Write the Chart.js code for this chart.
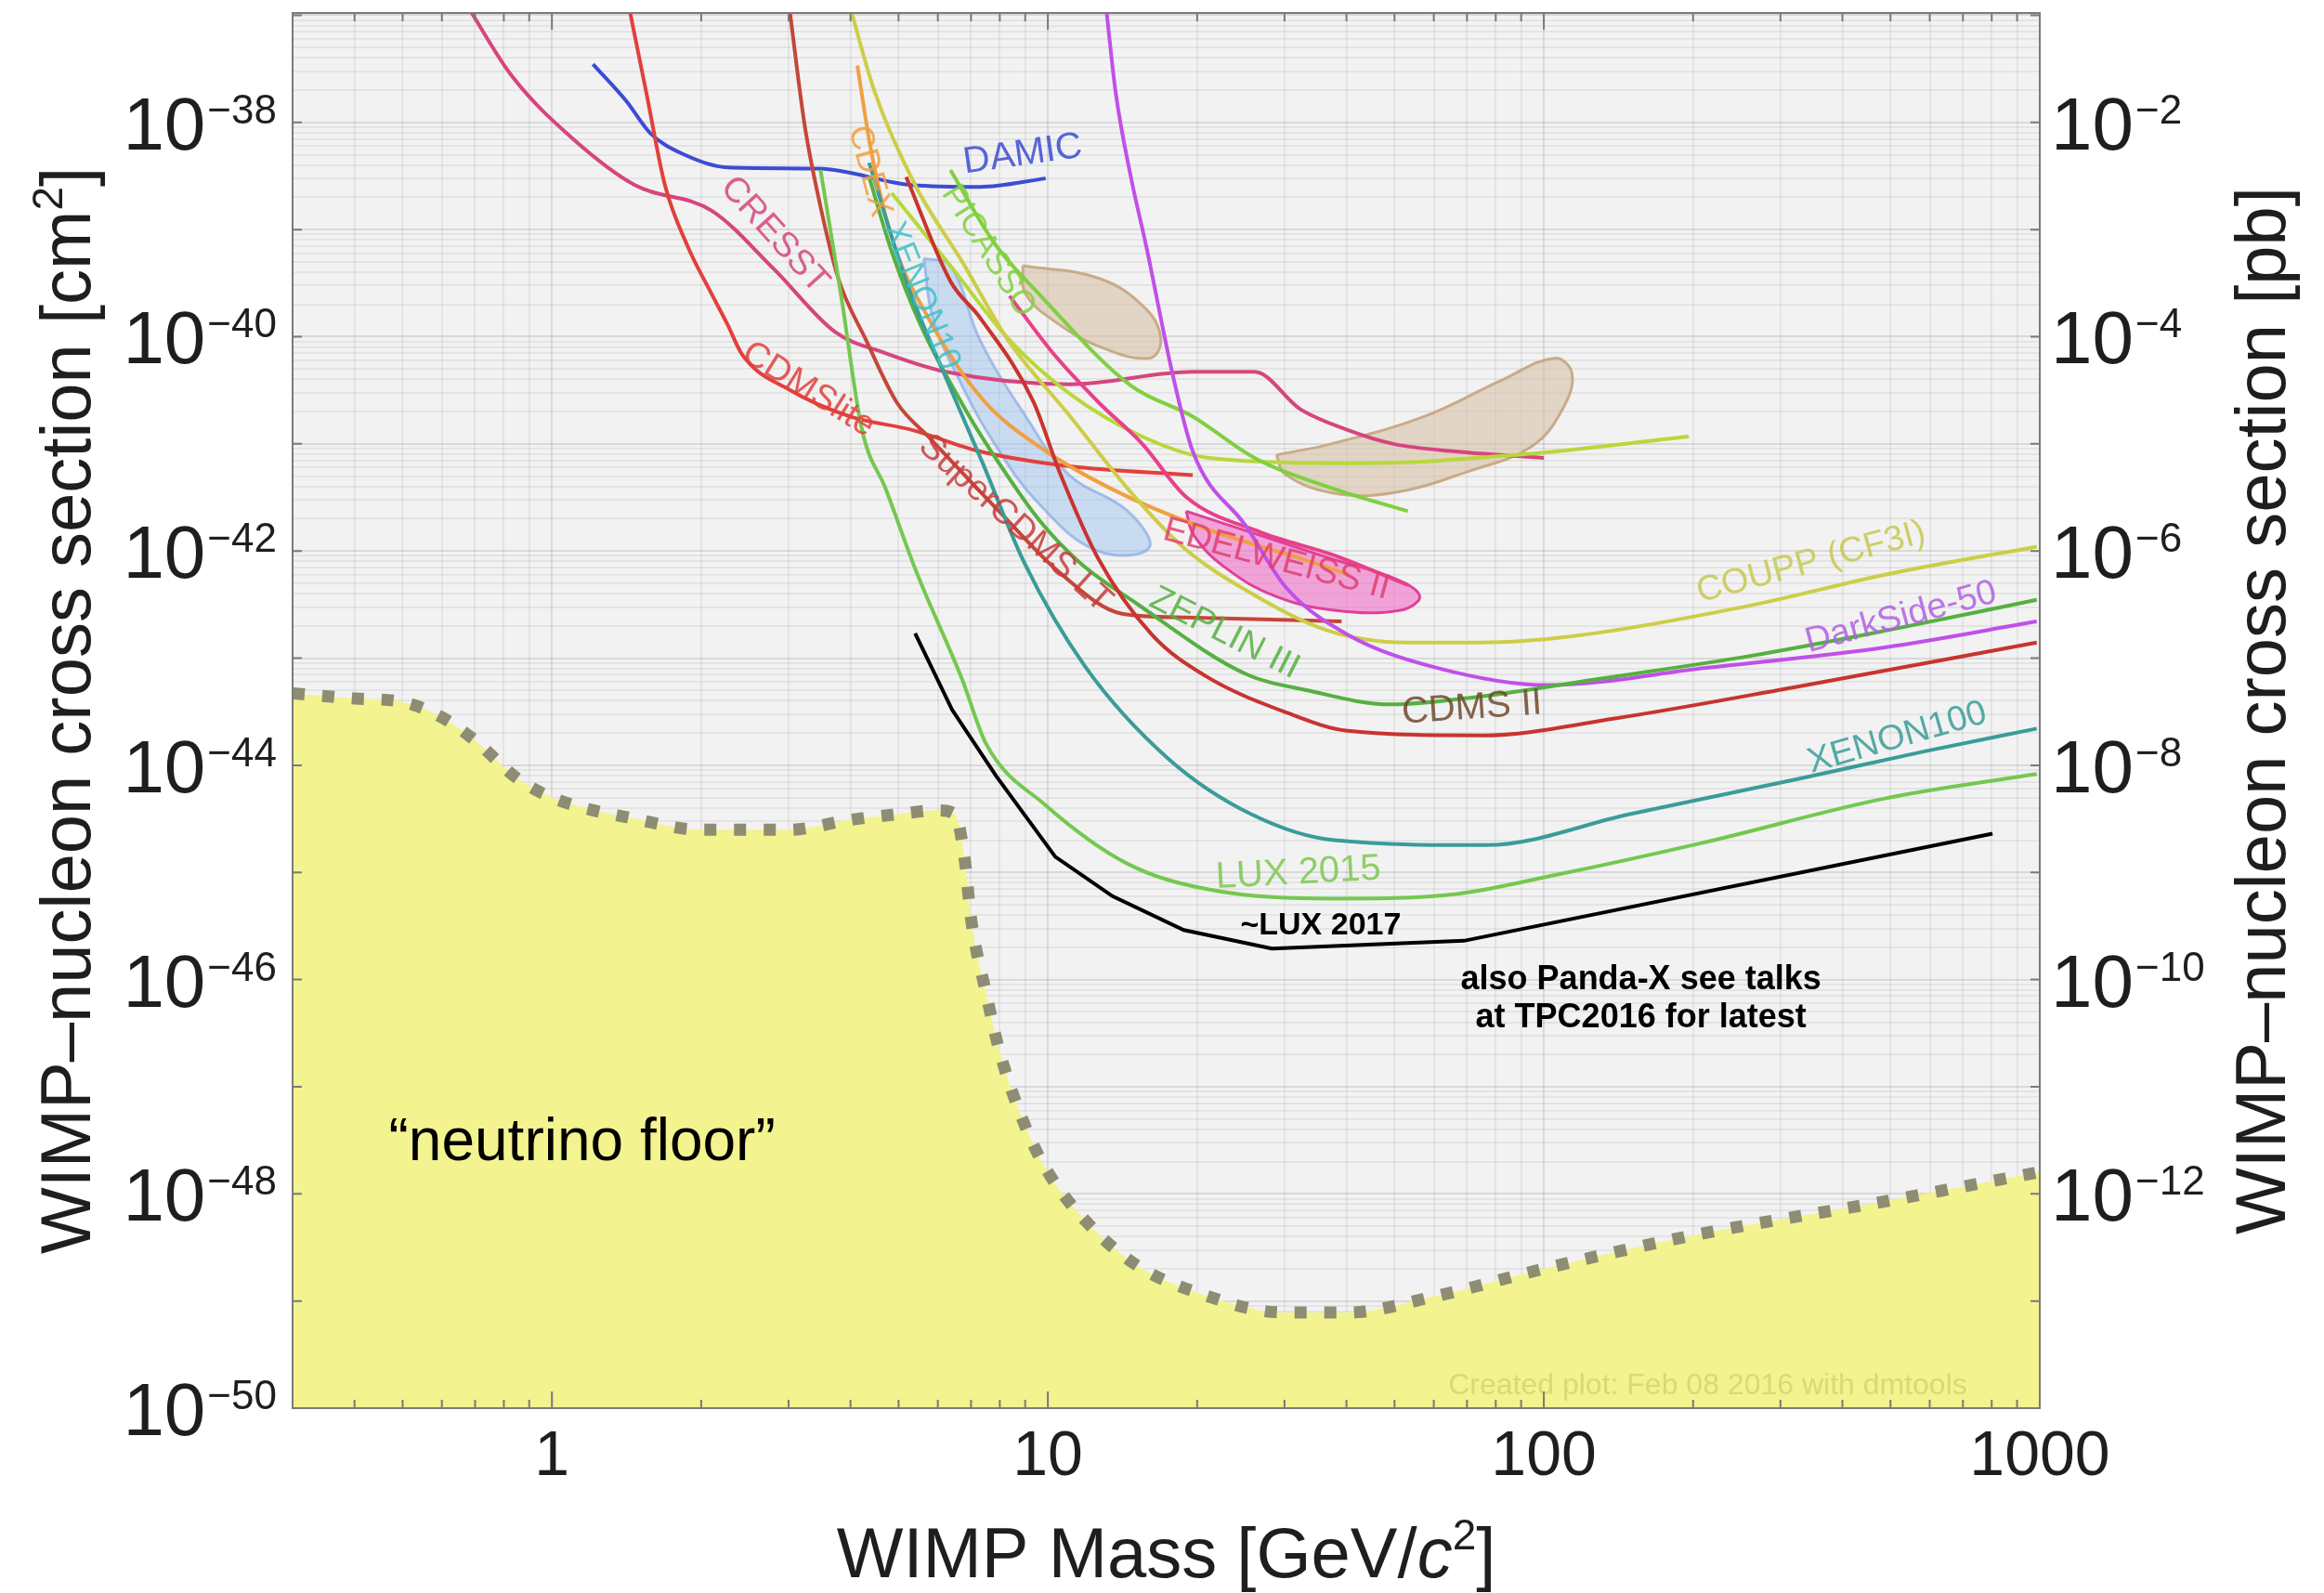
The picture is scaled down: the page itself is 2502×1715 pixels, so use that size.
<!DOCTYPE html>
<html>
<head>
<meta charset="utf-8">
<title>WIMP-nucleon cross section limits</title>
<script src="https://cdn.jsdelivr.net/npm/chart.js@4.4.1/dist/chart.umd.min.js"></script>
<style>
  html, body { margin: 0; padding: 0; background: #fff; }
  #wrap { width: 2502px; height: 1715px; }
</style>
</head>
<body>
<div id="wrap"><canvas id="chart" width="2502" height="1715"></canvas></div>
<script>
// axis ranges: WIMP mass in GeV/c^2, cross section in cm^2 (1 pb = 1e-36 cm^2)
var massMin = 0.305, massMax = 1000;
var sigmaMin = 1e-50, sigmaMax = 1.05e-37;

// tick labels
var massTickLabels = [1, 10, 100, 1000];
var cmTickExponents = [-38, -40, -42, -44, -46, -48, -50];
var pbTickExponents = [-2, -4, -6, -8, -10, -12];

// neutrino floor
var floorMass = [0.3, 0.4, 0.5, 0.6, 0.7, 0.85, 1, 1.5, 2, 3, 4, 5, 6, 6.5, 6.8, 7, 7.5, 8, 9, 10, 12, 15, 20, 30, 40, 60, 100, 200, 500, 1000];
var floorSigma = [4.7e-44, 4.2e-44, 3.9e-44, 2.8e-44, 1.7e-44, 7.6e-45, 5.0e-45, 3.1e-45, 2.5e-45, 2.5e-45, 3.1e-45, 3.5e-45, 3.8e-45, 3.5e-45, 1.3e-45, 3.7e-46, 7.6e-47, 2.1e-47, 4.3e-48, 1.6e-48, 5.4e-49, 2.2e-49, 1.2e-49, 7.8e-50, 7.8e-50, 1.1e-49, 2.0e-49, 4.1e-49, 8.7e-49, 1.6e-48];

// exclusion curves
var damicMass = [1.21, 1.41, 1.58, 1.85, 2.26, 3.46, 5.32, 7.3, 9.9];
var damicSigma = [3.5e-38, 1.6e-38, 7.9e-39, 5.0e-39, 3.8e-39, 3.7e-39, 2.6e-39, 2.5e-39, 3.0e-39];

var cresstMass = [0.677, 0.831, 1.10, 1.47, 2.10, 2.80, 3.73, 4.67, 6.23, 11.1, 19.6, 26.1, 32.3, 40.2, 49.7, 66.3, 100];
var cresstSigma = [1.2e-37, 2.7e-38, 7.1e-39, 2.6e-39, 1.5e-39, 4.3e-40, 1.1e-40, 7.1e-41, 4.7e-41, 3.6e-41, 4.7e-41, 4.7e-41, 2.1e-41, 1.35e-41, 1.0e-41, 8.5e-42, 7.4e-42];

var cdmsliteMass = [1.43, 1.55, 1.69, 1.88, 2.10, 2.26, 2.42, 3.01, 3.99, 5.32, 7.30, 11.0, 19.6];
var cdmsliteSigma = [1.2e-37, 1.9e-38, 2.6e-39, 6.9e-40, 2.5e-40, 1.3e-40, 6.8e-41, 3.2e-41, 1.8e-41, 1.35e-41, 8.5e-42, 6.2e-42, 5.1e-42];

var superCdmsMass = [3.01, 3.23, 3.46, 3.78, 4.30, 4.97, 5.74, 7.97, 10.6, 14.1, 19.0, 39.1];
var superCdmsSigma = [1.2e-37, 9.7e-39, 1.85e-39, 3.5e-40, 9.3e-41, 2.4e-41, 1.17e-41, 2.35e-42, 6.2e-43, 2.6e-43, 2.4e-43, 2.2e-43];

var cdexMass = [4.13, 4.39, 4.84, 5.74, 7.39, 9.93, 14.5, 21.8, 32.9, 40.5];
var cdexSigma = [3.4e-38, 5.8e-39, 8.5e-40, 1.5e-40, 2.6e-41, 8.5e-42, 3.2e-42, 1.5e-42, 8.3e-43, 6.0e-43];

var picassoMass = [6.36, 7.81, 9.60, 14.7, 19.6, 26.1, 37.8, 53.2];
var picassoSigma = [3.6e-39, 7.4e-40, 2.5e-40, 3.5e-41, 1.8e-41, 7.4e-42, 3.8e-42, 2.35e-42];

var limeMass = [4.84, 6.36, 8.37, 11.0, 15.5, 21.1, 43.0, 88.4, 196];
var limeSigma = [2.2e-39, 4.6e-40, 9.3e-41, 3.0e-41, 1.17e-41, 7.4e-42, 6.6e-42, 7.9e-42, 1.17e-41];

var edelweissMass = [8.37, 10.3, 12.7, 15.5, 19.0, 26.8, 37.8, 53.2];
var edelweissSigma = [2.4e-40, 6.8e-41, 2.4e-41, 1.0e-41, 3.2e-42, 1.5e-42, 9.1e-43, 4.8e-43];

var couppMass = [3.99, 4.48, 5.40, 6.72, 8.31, 11.1, 14.5, 18.8, 25.1, 36.8, 53.2, 75.0, 114, 261, 487, 986];
var couppSigma = [1.2e-37, 1.9e-38, 2.6e-39, 5.0e-40, 9.3e-41, 1.8e-41, 3.8e-42, 1.07e-42, 4.3e-43, 1.8e-43, 1.4e-43, 1.4e-43, 1.6e-43, 3.1e-43, 6.0e-43, 1.1e-42];

var darksideMass = [13.1, 13.7, 14.7, 15.8, 17.8, 19.6, 25.1, 30.3, 40.2, 61.0, 102, 212, 487, 986];
var darksideSigma = [1.2e-37, 1.9e-38, 3.1e-39, 6.9e-40, 4.7e-41, 8.5e-42, 1.7e-42, 4.5e-43, 1.66e-43, 8.1e-44, 5.6e-44, 8.1e-44, 1.26e-43, 2.2e-43];

var zeplinMass = [4.36, 4.84, 5.55, 6.95, 7.97, 9.60, 11.6, 15.0, 25.1, 33.4, 49.0, 75.0, 126, 261, 487, 986];
var zeplinSigma = [3.1e-39, 6.3e-40, 1.26e-40, 1.8e-41, 6.6e-42, 1.95e-42, 7.8e-43, 3.3e-43, 7.1e-44, 5.0e-44, 3.7e-44, 4.4e-44, 6.3e-44, 1.05e-43, 1.8e-43, 3.5e-43];

var cdms2Mass = [5.18, 6.36, 7.30, 9.34, 10.6, 12.6, 16.2, 20.7, 30.3, 40.2, 75.0, 140, 323, 986];
var cdms2Sigma = [3.1e-39, 3.3e-40, 1.5e-40, 2.5e-41, 5.2e-42, 8.7e-43, 1.66e-43, 6.9e-44, 3.1e-44, 2.1e-44, 1.9e-44, 2.75e-44, 5.4e-44, 1.4e-43];

var xenon100Mass = [4.36, 5.18, 6.36, 7.39, 8.96, 11.9, 17.5, 25.7, 37.8, 76.5, 149, 323, 586, 986];
var xenon100Sigma = [4.2e-39, 3.3e-40, 3.3e-41, 6.6e-42, 7.8e-43, 8.3e-44, 1.15e-44, 3.5e-45, 2.0e-45, 1.8e-45, 3.5e-45, 7.4e-45, 1.35e-44, 2.2e-44];

var lux2015Mass = [3.48, 3.83, 4.22, 4.71, 5.43, 6.72, 7.50, 9.86, 14.5, 21.2, 37.8, 66.7, 106, 210, 487, 986];
var lux2015Sigma = [3.6e-39, 2.4e-40, 1.35e-41, 3.8e-42, 6.4e-43, 6.3e-44, 1.6e-44, 4.3e-45, 1.2e-45, 6.9e-46, 5.7e-46, 6.3e-46, 9.5e-46, 1.9e-45, 4.9e-45, 8.3e-45];

var lux2017Mass = [5.40, 6.41, 7.87, 10.35, 13.5, 18.8, 28.3, 69.0, 803];
var lux2017Sigma = [1.7e-43, 3.3e-44, 7.9e-45, 1.4e-45, 6.0e-46, 2.9e-46, 1.95e-46, 2.3e-46, 2.3e-45];

// signal regions (closed contours)
var tanUpperMass = [8.90, 12.7, 15.8, 16.9, 16.0, 12.7, 10.3, 9.02, 8.90];
var tanUpperSigma = [4.6e-40, 3.5e-40, 1.8e-40, 9.3e-41, 6.3e-41, 8.1e-41, 1.4e-40, 2.5e-40, 4.6e-40];

var tanLowerMass = [28.9, 37.3, 57.4, 82.0, 105, 114, 109, 94.6, 71.0, 49.7, 37.3, 30.1, 28.9];
var tanLowerSigma = [7.9e-42, 1.0e-41, 1.8e-41, 3.9e-41, 6.3e-41, 4.5e-41, 2.1e-41, 9.5e-42, 5.6e-42, 3.5e-42, 3.5e-42, 5.2e-42, 7.9e-42];

var blueMass = [5.62, 6.36, 7.30, 8.96, 11.0, 14.5, 16.0, 12.6, 9.60, 7.81, 6.58, 5.86, 5.62];
var blueSigma = [5.4e-40, 4.6e-40, 9.3e-41, 1.9e-41, 5.2e-42, 2.35e-42, 1.07e-42, 1.0e-42, 2.75e-42, 1.0e-41, 4.2e-41, 1.5e-40, 5.4e-40];

var pinkMass = [19.0, 26.8, 37.8, 49.7, 56.2, 51.4, 37.8, 28.7, 22.7, 19.7, 19.0];
var pinkSigma = [2.35e-42, 1.4e-42, 8.3e-43, 5.6e-43, 3.8e-43, 2.8e-43, 2.8e-43, 3.8e-43, 7.1e-43, 1.4e-42, 2.35e-42];

// curve labels placed in data coordinates
var curveNotes = [
  { text: 'DAMIC', mass: 8.9, sigma: 5.0e-39, angle: -8, color: '#3b4cd4', size: 40 },
  { text: 'CRESST', mass: 2.81, sigma: 8.9e-40, angle: 48, color: '#d6457e', size: 38 },
  { text: 'CDMSlite', mass: 3.29, sigma: 3.2e-41, angle: 32, color: '#e2403c', size: 38 },
  { text: 'SuperCDMS LT', mass: 8.59, sigma: 1.8e-42, angle: 42, color: '#c83c3c', size: 38 },
  { text: 'CDEX', mass: 4.37, sigma: 3.5e-39, angle: 75, color: '#eea040', size: 36 },
  { text: 'XENON10', mass: 5.56, sigma: 2.4e-40, angle: 68, color: '#40c0c8', size: 36 },
  { text: 'PICASSO', mass: 7.59, sigma: 6.3e-40, angle: 58, color: '#80d040', size: 36 },
  { text: 'EDELWEISS II', mass: 28.9, sigma: 8.3e-43, angle: 15, color: '#e04070', size: 38 },
  { text: 'ZEPLIN III', mass: 22.7, sigma: 1.7e-43, angle: 27, color: '#55b040', size: 38 },
  { text: 'CDMS II', mass: 71.6, sigma: 3.4e-44, angle: -4, color: '#6e4a2e', size: 40 },
  { text: 'COUPP (CF3I)', mass: 346, sigma: 7.8e-43, angle: -15, color: '#c8c850', size: 38 },
  { text: 'DarkSide-50', mass: 525, sigma: 2.4e-43, angle: -15, color: '#b060e0', size: 38 },
  { text: 'XENON100', mass: 516, sigma: 1.8e-44, angle: -16, color: '#3a9c98', size: 38 },
  { text: 'LUX 2015', mass: 32.0, sigma: 9.8e-46, angle: -3, color: '#7cc850', size: 40 }
];

var FONT = '"Liberation Sans", Arial, Helvetica, sans-serif';

function points(mass, sigma) {
  return mass.map(function (m, i) { return { x: m, y: sigma[i] }; });
}

function curve(label, mass, sigma, color, width) {
  return {
    label: label,
    data: points(mass, sigma),
    borderColor: color,
    borderWidth: width || 4,
    pointRadius: 0,
    fill: false,
    cubicInterpolationMode: 'monotone'
  };
}

function region(label, mass, sigma, fillColor, lineColor) {
  return {
    label: label,
    data: points(mass, sigma),
    borderColor: lineColor,
    backgroundColor: fillColor,
    borderWidth: 3,
    pointRadius: 0,
    tension: 0.4,
    fill: 'shape'
  };
}

var lux2017 = curve('~LUX 2017', lux2017Mass, lux2017Sigma, '#000000', 4);
lux2017.cubicInterpolationMode = 'default';
lux2017.tension = 0;

var floor = {
  label: 'neutrino floor',
  data: points(floorMass, floorSigma),
  borderColor: '#8d8d74',
  borderWidth: 13,
  borderDash: [13, 19],
  pointRadius: 0,
  cubicInterpolationMode: 'monotone',
  backgroundColor: 'rgb(243,243,143)',
  fill: 'start'
};

// first in the list is drawn on top
var datasets = [
  lux2017,
  curve('LUX 2015', lux2015Mass, lux2015Sigma, '#74c850'),
  curve('XENON100', xenon100Mass, xenon100Sigma, '#3a9c98'),
  curve('CDMS II', cdms2Mass, cdms2Sigma, '#c8342e'),
  curve('ZEPLIN III', zeplinMass, zeplinSigma, '#55b040'),
  curve('DarkSide-50', darksideMass, darksideSigma, '#c050e8'),
  curve('COUPP', couppMass, couppSigma, '#cdcd48'),
  curve('EDELWEISS II', edelweissMass, edelweissSigma, '#e8408a'),
  curve('PICASSO', picassoMass, picassoSigma, '#80d040'),
  curve('SIMPLE', limeMass, limeSigma, '#b8d83a'),
  curve('CDEX', cdexMass, cdexSigma, '#f0a040'),
  curve('SuperCDMS LT', superCdmsMass, superCdmsSigma, '#c4473a'),
  curve('CDMSlite', cdmsliteMass, cdmsliteSigma, '#e2403c'),
  curve('CRESST', cresstMass, cresstSigma, '#d6457e'),
  curve('DAMIC', damicMass, damicSigma, '#3b4cd4'),
  region('EDELWEISS region', pinkMass, pinkSigma, 'rgba(240,110,200,0.6)', '#e0409a'),
  region('signal region A', tanUpperMass, tanUpperSigma, 'rgba(214,190,160,0.55)', '#c9ab88'),
  region('signal region B', tanLowerMass, tanLowerSigma, 'rgba(214,190,160,0.55)', '#c9ab88'),
  region('signal region C', blueMass, blueSigma, 'rgba(150,190,240,0.45)', 'rgba(120,160,230,0.6)'),
  floor
];

function logTicks(lo, hi, fromExp, toExp) {
  var ticks = [];
  for (var d = fromExp; d <= toExp; d++) {
    for (var k = 1; k <= 9; k++) {
      var v = k * Math.pow(10, d);
      if (v >= lo * 0.999 && v <= hi) ticks.push({ value: v, major: k === 1 });
    }
  }
  return ticks;
}

function gridColor(c) {
  return c.tick && c.tick.major ? 'rgba(0,0,0,0.10)' : 'rgba(0,0,0,0.055)';
}

function drawPower(ctx, exp, x, y, alignRight) {
  var big = '80px ' + FONT, small = '44px ' + FONT;
  var sup = '\u2212' + Math.abs(exp);
  ctx.font = big;
  var w1 = ctx.measureText('10').width;
  ctx.font = small;
  var w2 = ctx.measureText(sup).width;
  var left = alignRight ? x - w1 - w2 - 2 : x;
  ctx.textAlign = 'left';
  ctx.textBaseline = 'alphabetic';
  ctx.font = big;
  ctx.fillText('10', left, y + 29);
  ctx.font = small;
  ctx.fillText(sup, left + w1 + 2, y + 1);
}

// draws a run of text pieces centred on (0,0) in the current transform
function drawPieces(ctx, pieces) {
  var total = 0;
  pieces.forEach(function (p) { ctx.font = p.font; p.w = ctx.measureText(p.text).width; total += p.w; });
  var x = -total / 2;
  ctx.textAlign = 'left';
  ctx.textBaseline = 'alphabetic';
  pieces.forEach(function (p) {
    ctx.font = p.font;
    ctx.fillText(p.text, x, p.dy || 0);
    x += p.w;
  });
}

var decor = {
  id: 'decor',
  beforeDraw: function (chart) {
    var a = chart.chartArea, ctx = chart.ctx;
    ctx.save();
    ctx.fillStyle = '#ffffff';
    ctx.fillRect(0, 0, chart.width, chart.height);
    ctx.fillStyle = '#f2f2f2';
    ctx.fillRect(a.left, a.top, a.right - a.left, a.bottom - a.top);
    ctx.restore();
  },
  afterDraw: function (chart) {
    var ctx = chart.ctx, a = chart.chartArea;
    var xs = chart.scales.x, ys = chart.scales.y;
    ctx.save();

    // frame and tick marks
    ctx.strokeStyle = '#7a7a7a';
    ctx.lineWidth = 2;
    ctx.strokeRect(a.left, a.top, a.right - a.left, a.bottom - a.top);
    xs.ticks.forEach(function (t) {
      var px = xs.getPixelForValue(t.value), len = t.major ? 18 : 9;
      ctx.beginPath();
      ctx.moveTo(px, a.bottom); ctx.lineTo(px, a.bottom - len);
      ctx.moveTo(px, a.top); ctx.lineTo(px, a.top + len);
      ctx.stroke();
    });
    ys.ticks.forEach(function (t) {
      if (!t.major) return;
      var py = ys.getPixelForValue(t.value);
      ctx.beginPath();
      ctx.moveTo(a.left, py); ctx.lineTo(a.left + 10, py);
      ctx.moveTo(a.right, py); ctx.lineTo(a.right - 10, py);
      ctx.stroke();
    });

    // tick labels
    ctx.fillStyle = '#1e1e1e';
    cmTickExponents.forEach(function (e) {
      drawPower(ctx, e, a.left - 17, ys.getPixelForValue(Math.pow(10, e)), true);
    });
    pbTickExponents.forEach(function (e) {
      drawPower(ctx, e, a.right + 12, ys.getPixelForValue(Math.pow(10, e - 36)), false);
    });
    ctx.font = '68px ' + FONT;
    ctx.textAlign = 'center';
    ctx.textBaseline = 'alphabetic';
    massTickLabels.forEach(function (m) {
      ctx.fillText(String(m), xs.getPixelForValue(m), a.bottom + 72);
    });

    // axis titles
    var tf = '76px ' + FONT;
    ctx.save();
    ctx.translate((a.left + a.right) / 2, 1698);
    drawPieces(ctx, [
      { text: 'WIMP Mass [GeV/', font: tf },
      { text: 'c', font: 'italic ' + tf },
      { text: '2', font: '46px ' + FONT, dy: -30 },
      { text: ']', font: tf }
    ]);
    ctx.restore();
    ctx.save();
    ctx.translate(97, (a.top + a.bottom) / 2);
    ctx.rotate(-Math.PI / 2);
    drawPieces(ctx, [
      { text: 'WIMP\u2013nucleon cross section [cm', font: tf },
      { text: '2', font: '46px ' + FONT, dy: -30 },
      { text: ']', font: tf }
    ]);
    ctx.restore();
    ctx.save();
    ctx.translate(2460, (a.top + a.bottom) / 2);
    ctx.rotate(-Math.PI / 2);
    drawPieces(ctx, [{ text: 'WIMP\u2013nucleon cross section [pb]', font: tf }]);
    ctx.restore();

    // curve labels
    ctx.textAlign = 'center';
    ctx.textBaseline = 'middle';
    curveNotes.forEach(function (n) {
      ctx.save();
      ctx.translate(xs.getPixelForValue(n.mass), ys.getPixelForValue(n.sigma));
      ctx.rotate(n.angle * Math.PI / 180);
      ctx.globalAlpha = 0.85;
      ctx.fillStyle = n.color;
      ctx.font = n.size + 'px ' + FONT;
      ctx.fillText(n.text, 0, 0);
      ctx.restore();
    });

    // annotations
    ctx.fillStyle = '#000';
    ctx.font = 'bold 34px ' + FONT;
    ctx.fillText('~LUX 2017', xs.getPixelForValue(35.5), ys.getPixelForValue(3.2e-46));
    ctx.font = 'bold 36px ' + FONT;
    ctx.fillText('also Panda-X see talks', xs.getPixelForValue(157), ys.getPixelForValue(1.0e-46));
    ctx.fillText('at TPC2016 for latest', xs.getPixelForValue(157), ys.getPixelForValue(4.4e-47));
    ctx.font = '64px ' + FONT;
    ctx.fillText('\u201cneutrino floor\u201d', xs.getPixelForValue(1.15), ys.getPixelForValue(2.95e-48));
    ctx.font = '32px ' + FONT;
    ctx.fillStyle = 'rgba(150,150,60,0.28)';
    ctx.fillText('Created plot: Feb 08 2016 with dmtools', xs.getPixelForValue(214), ys.getPixelForValue(1.6e-50));

    ctx.restore();
  }
};

var chart = new Chart(document.getElementById('chart').getContext('2d'), {
  type: 'line',
  data: { datasets: datasets },
  options: {
    responsive: false,
    devicePixelRatio: 1,
    animation: false,
    layout: { padding: { top: 14, right: 306, left: 0, bottom: 0 } },
    plugins: { legend: { display: false }, tooltip: { enabled: false } },
    scales: {
      x: {
        type: 'logarithmic',
        position: 'bottom',
        min: massMin,
        max: massMax,
        ticks: { display: false },
        border: { display: false },
        grid: { color: gridColor, lineWidth: 2, drawTicks: false },
        afterBuildTicks: function (scale) { scale.ticks = logTicks(massMin, massMax, -1, 3); },
        afterFit: function (scale) { scale.height = 199; }
      },
      y: {
        type: 'logarithmic',
        position: 'left',
        min: sigmaMin,
        max: sigmaMax,
        ticks: { display: false },
        border: { display: false },
        grid: { color: gridColor, lineWidth: 2, drawTicks: false },
        afterBuildTicks: function (scale) { scale.ticks = logTicks(sigmaMin, sigmaMax, -50, -37); },
        afterFit: function (scale) { scale.width = 315; }
      }
    }
  },
  plugins: [decor]
});
</script>
</body>
</html>
